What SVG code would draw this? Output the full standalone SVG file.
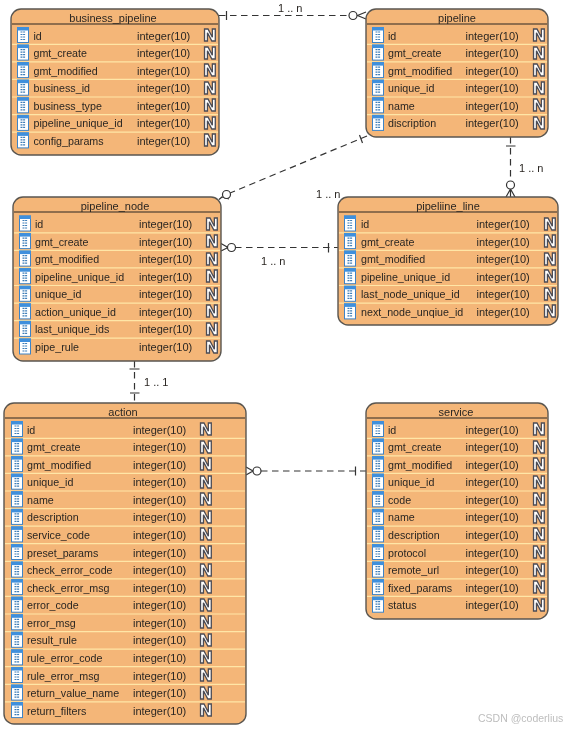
<svg xmlns="http://www.w3.org/2000/svg" width="566" height="730" viewBox="0 0 566 730">
<style>
text{font-family:"Liberation Sans",Arial,sans-serif;font-size:10.7px;fill:#2a2622}
g g text:nth-of-type(2){font-size:11px}
.box{fill:#f4b678;stroke:#5a5650;stroke-width:1.4}
.hd{stroke:#2a2622;stroke-width:1.1}
.sep{stroke:#ffe6a6;stroke-width:1.2}
.ti{text-anchor:middle;font-size:11px}
g g text.nn{font-family:"DejaVu Sans",sans-serif;font-size:16.500px;font-weight:bold;fill:#fff;stroke:#4c4c55;stroke-width:1.3;text-anchor:middle}
.c{fill:none;stroke:#333;stroke-width:1.2}
.d{stroke-dasharray:6.500 4.500}
.o{fill:#fff;stroke:#333;stroke-width:1.2}
.lb{font-size:11px}
.wm{fill:#bdbdbd;font-size:10.500px}
#connectors,#business_pipeline,#pipeline,#pipeline_node,#pipeliine_line,#action,#service,.wm{filter:url(#soft)}
</style>
<defs>
<filter id="soft" x="-5%" y="-5%" width="110%" height="110%" color-interpolation-filters="sRGB"><feGaussianBlur stdDeviation="0.32"/></filter>
<g id="k">
<rect x="0.5" y="-8" width="11" height="15" fill="#fff" stroke="#3d83c6" stroke-width="1"/>
<rect x="0" y="-8.500" width="12" height="3.500" fill="#3f8fdc"/>
<path d="M3.500 -3.500H8.500M3.500 -1H8.500M3.500 1.500H8.500M3.500 4H8.500" stroke="#3d7db8" stroke-width="1.200" stroke-dasharray="2 0.600"/>
</g>
</defs>
<g id="connectors">
<g>
<path class="c d" d="M219 15.500H349"/><path class="c" d="M226.500 11V20M366 12L357.500 15.500L366 19"/><circle class="o" cx="353" cy="15.500" r="4"/>
</g>
<g>
<path class="c d" d="M367 136L230 193"/><path class="c" d="M359.500 135L362.500 143M229 199L222 197L219 199.500"/><circle class="o" cx="226.500" cy="194.500" r="4"/>
</g>
<g>
<path class="c d" d="M510.500 137V181"/><path class="c" d="M506 146H515.500M506 197L510.500 189L515 197M510.500 189V197"/><circle class="o" cx="510.500" cy="185" r="4"/>
</g>
<g>
<path class="c d" d="M235 247.500H338"/><path class="c" d="M328.500 243V252.500M221 243.500L228 247.500L221 251"/><circle class="o" cx="231.500" cy="247.500" r="4"/>
</g>
<g>
<path class="c d" d="M134.500 361V403"/><path class="c" d="M129.500 369H139.500M130 393H139.500"/>
</g>
<g>
<path class="c d" d="M261 471H366"/><path class="c" d="M355.500 466.500V475.500M246 467L253 471L246 475"/><circle class="o" cx="257" cy="471" r="4"/>
</g>
<text class="lb" x="278" y="12">1 .. n</text>
<text class="lb" x="519" y="172">1 .. n</text>
<text class="lb" x="316" y="198">1 .. n</text>
<text class="lb" x="261" y="265">1 .. n</text>
<text class="lb" x="144" y="386">1 .. 1</text>
</g>
<g id="business_pipeline" transform="translate(11,9)">
<rect class="box" width="208" height="146" rx="10"/><line class="hd" x1="1" x2="207" y1="15" y2="15"/><text class="ti" x="102" y="13">business_pipeline</text>
<g transform="translate(0,26.500)"><use href="#k" x="6"/><text x="22.500" y="4">id</text><text x="126" y="4">integer(10)</text><text class="nn" x="199" y="5.500">N</text><line class="sep" x1="1" x2="207" y1="8.800" y2="8.800"/></g>
<g transform="translate(0,44.100)"><use href="#k" x="6"/><text x="22.500" y="4">gmt_create</text><text x="126" y="4">integer(10)</text><text class="nn" x="199" y="5.500">N</text><line class="sep" x1="1" x2="207" y1="8.800" y2="8.800"/></g>
<g transform="translate(0,61.600)"><use href="#k" x="6"/><text x="22.500" y="4">gmt_modified</text><text x="126" y="4">integer(10)</text><text class="nn" x="199" y="5.500">N</text><line class="sep" x1="1" x2="207" y1="8.800" y2="8.800"/></g>
<g transform="translate(0,79.200)"><use href="#k" x="6"/><text x="22.500" y="4">business_id</text><text x="126" y="4">integer(10)</text><text class="nn" x="199" y="5.500">N</text><line class="sep" x1="1" x2="207" y1="8.800" y2="8.800"/></g>
<g transform="translate(0,96.800)"><use href="#k" x="6"/><text x="22.500" y="4">business_type</text><text x="126" y="4">integer(10)</text><text class="nn" x="199" y="5.500">N</text><line class="sep" x1="1" x2="207" y1="8.800" y2="8.800"/></g>
<g transform="translate(0,114.400)"><use href="#k" x="6"/><text x="22.500" y="4">pipeline_unique_id</text><text x="126" y="4">integer(10)</text><text class="nn" x="199" y="5.500">N</text><line class="sep" x1="1" x2="207" y1="8.800" y2="8.800"/></g>
<g transform="translate(0,131.900)"><use href="#k" x="6"/><text x="22.500" y="4">config_params</text><text x="126" y="4">integer(10)</text><text class="nn" x="199" y="5.500">N</text></g>
</g>
<g id="pipeline" transform="translate(366,9)">
<rect class="box" width="182" height="128" rx="10"/><line class="hd" x1="1" x2="181" y1="15" y2="15"/><text class="ti" x="91" y="13">pipeline</text>
<g transform="translate(0,26.500)"><use href="#k" x="6"/><text x="22" y="4">id</text><text x="99.500" y="4">integer(10)</text><text class="nn" x="173" y="5.500">N</text><line class="sep" x1="1" x2="181" y1="8.800" y2="8.800"/></g>
<g transform="translate(0,44.100)"><use href="#k" x="6"/><text x="22" y="4">gmt_create</text><text x="99.500" y="4">integer(10)</text><text class="nn" x="173" y="5.500">N</text><line class="sep" x1="1" x2="181" y1="8.800" y2="8.800"/></g>
<g transform="translate(0,61.600)"><use href="#k" x="6"/><text x="22" y="4">gmt_modified</text><text x="99.500" y="4">integer(10)</text><text class="nn" x="173" y="5.500">N</text><line class="sep" x1="1" x2="181" y1="8.800" y2="8.800"/></g>
<g transform="translate(0,79.200)"><use href="#k" x="6"/><text x="22" y="4">unique_id</text><text x="99.500" y="4">integer(10)</text><text class="nn" x="173" y="5.500">N</text><line class="sep" x1="1" x2="181" y1="8.800" y2="8.800"/></g>
<g transform="translate(0,96.800)"><use href="#k" x="6"/><text x="22" y="4">name</text><text x="99.500" y="4">integer(10)</text><text class="nn" x="173" y="5.500">N</text><line class="sep" x1="1" x2="181" y1="8.800" y2="8.800"/></g>
<g transform="translate(0,114.400)"><use href="#k" x="6"/><text x="22" y="4">discription</text><text x="99.500" y="4">integer(10)</text><text class="nn" x="173" y="5.500">N</text></g>
</g>
<g id="pipeline_node" transform="translate(13,197)">
<rect class="box" width="208" height="164" rx="10"/><line class="hd" x1="1" x2="207" y1="15" y2="15"/><text class="ti" x="102" y="13">pipeline_node</text>
<g transform="translate(0,27)"><use href="#k" x="6"/><text x="22" y="4">id</text><text x="126" y="4">integer(10)</text><text class="nn" x="199" y="5.500">N</text><line class="sep" x1="1" x2="207" y1="8.800" y2="8.800"/></g>
<g transform="translate(0,44.600)"><use href="#k" x="6"/><text x="22" y="4">gmt_create</text><text x="126" y="4">integer(10)</text><text class="nn" x="199" y="5.500">N</text><line class="sep" x1="1" x2="207" y1="8.800" y2="8.800"/></g>
<g transform="translate(0,62.100)"><use href="#k" x="6"/><text x="22" y="4">gmt_modified</text><text x="126" y="4">integer(10)</text><text class="nn" x="199" y="5.500">N</text><line class="sep" x1="1" x2="207" y1="8.800" y2="8.800"/></g>
<g transform="translate(0,79.700)"><use href="#k" x="6"/><text x="22" y="4">pipeline_unique_id</text><text x="126" y="4">integer(10)</text><text class="nn" x="199" y="5.500">N</text><line class="sep" x1="1" x2="207" y1="8.800" y2="8.800"/></g>
<g transform="translate(0,97.300)"><use href="#k" x="6"/><text x="22" y="4">unique_id</text><text x="126" y="4">integer(10)</text><text class="nn" x="199" y="5.500">N</text><line class="sep" x1="1" x2="207" y1="8.800" y2="8.800"/></g>
<g transform="translate(0,114.900)"><use href="#k" x="6"/><text x="22" y="4">action_unique_id</text><text x="126" y="4">integer(10)</text><text class="nn" x="199" y="5.500">N</text><line class="sep" x1="1" x2="207" y1="8.800" y2="8.800"/></g>
<g transform="translate(0,132.400)"><use href="#k" x="6"/><text x="22" y="4">last_unique_ids</text><text x="126" y="4">integer(10)</text><text class="nn" x="199" y="5.500">N</text><line class="sep" x1="1" x2="207" y1="8.800" y2="8.800"/></g>
<g transform="translate(0,150)"><use href="#k" x="6"/><text x="22" y="4">pipe_rule</text><text x="126" y="4">integer(10)</text><text class="nn" x="199" y="5.500">N</text></g>
</g>
<g id="pipeliine_line" transform="translate(338,197)">
<rect class="box" width="220" height="128" rx="10"/><line class="hd" x1="1" x2="219" y1="15" y2="15"/><text class="ti" x="110" y="13">pipeliine_line</text>
<g transform="translate(0,27)"><use href="#k" x="6"/><text x="23" y="4">id</text><text x="138.500" y="4">integer(10)</text><text class="nn" x="212" y="5.500">N</text><line class="sep" x1="1" x2="219" y1="8.800" y2="8.800"/></g>
<g transform="translate(0,44.600)"><use href="#k" x="6"/><text x="23" y="4">gmt_create</text><text x="138.500" y="4">integer(10)</text><text class="nn" x="212" y="5.500">N</text><line class="sep" x1="1" x2="219" y1="8.800" y2="8.800"/></g>
<g transform="translate(0,62.100)"><use href="#k" x="6"/><text x="23" y="4">gmt_modified</text><text x="138.500" y="4">integer(10)</text><text class="nn" x="212" y="5.500">N</text><line class="sep" x1="1" x2="219" y1="8.800" y2="8.800"/></g>
<g transform="translate(0,79.700)"><use href="#k" x="6"/><text x="23" y="4">pipeline_unique_id</text><text x="138.500" y="4">integer(10)</text><text class="nn" x="212" y="5.500">N</text><line class="sep" x1="1" x2="219" y1="8.800" y2="8.800"/></g>
<g transform="translate(0,97.300)"><use href="#k" x="6"/><text x="23" y="4">last_node_unique_id</text><text x="138.500" y="4">integer(10)</text><text class="nn" x="212" y="5.500">N</text><line class="sep" x1="1" x2="219" y1="8.800" y2="8.800"/></g>
<g transform="translate(0,114.900)"><use href="#k" x="6"/><text x="23" y="4">next_node_unqiue_id</text><text x="138.500" y="4">integer(10)</text><text class="nn" x="212" y="5.500">N</text></g>
</g>
<g id="action" transform="translate(4,403)">
<rect class="box" width="242" height="321" rx="10"/><line class="hd" x1="1" x2="241" y1="15" y2="15"/><text class="ti" x="119" y="13">action</text>
<g transform="translate(0,26.500)"><use href="#k" x="7"/><text x="23" y="4">id</text><text x="129" y="4">integer(10)</text><text class="nn" x="202" y="5.500">N</text><line class="sep" x1="1" x2="241" y1="8.800" y2="8.800"/></g>
<g transform="translate(0,44.100)"><use href="#k" x="7"/><text x="23" y="4">gmt_create</text><text x="129" y="4">integer(10)</text><text class="nn" x="202" y="5.500">N</text><line class="sep" x1="1" x2="241" y1="8.800" y2="8.800"/></g>
<g transform="translate(0,61.600)"><use href="#k" x="7"/><text x="23" y="4">gmt_modified</text><text x="129" y="4">integer(10)</text><text class="nn" x="202" y="5.500">N</text><line class="sep" x1="1" x2="241" y1="8.800" y2="8.800"/></g>
<g transform="translate(0,79.200)"><use href="#k" x="7"/><text x="23" y="4">unique_id</text><text x="129" y="4">integer(10)</text><text class="nn" x="202" y="5.500">N</text><line class="sep" x1="1" x2="241" y1="8.800" y2="8.800"/></g>
<g transform="translate(0,96.800)"><use href="#k" x="7"/><text x="23" y="4">name</text><text x="129" y="4">integer(10)</text><text class="nn" x="202" y="5.500">N</text><line class="sep" x1="1" x2="241" y1="8.800" y2="8.800"/></g>
<g transform="translate(0,114.400)"><use href="#k" x="7"/><text x="23" y="4">description</text><text x="129" y="4">integer(10)</text><text class="nn" x="202" y="5.500">N</text><line class="sep" x1="1" x2="241" y1="8.800" y2="8.800"/></g>
<g transform="translate(0,131.900)"><use href="#k" x="7"/><text x="23" y="4">service_code</text><text x="129" y="4">integer(10)</text><text class="nn" x="202" y="5.500">N</text><line class="sep" x1="1" x2="241" y1="8.800" y2="8.800"/></g>
<g transform="translate(0,149.500)"><use href="#k" x="7"/><text x="23" y="4">preset_params</text><text x="129" y="4">integer(10)</text><text class="nn" x="202" y="5.500">N</text><line class="sep" x1="1" x2="241" y1="8.800" y2="8.800"/></g>
<g transform="translate(0,167.100)"><use href="#k" x="7"/><text x="23" y="4">check_error_code</text><text x="129" y="4">integer(10)</text><text class="nn" x="202" y="5.500">N</text><line class="sep" x1="1" x2="241" y1="8.800" y2="8.800"/></g>
<g transform="translate(0,184.600)"><use href="#k" x="7"/><text x="23" y="4">check_error_msg</text><text x="129" y="4">integer(10)</text><text class="nn" x="202" y="5.500">N</text><line class="sep" x1="1" x2="241" y1="8.800" y2="8.800"/></g>
<g transform="translate(0,202.200)"><use href="#k" x="7"/><text x="23" y="4">error_code</text><text x="129" y="4">integer(10)</text><text class="nn" x="202" y="5.500">N</text><line class="sep" x1="1" x2="241" y1="8.800" y2="8.800"/></g>
<g transform="translate(0,219.800)"><use href="#k" x="7"/><text x="23" y="4">error_msg</text><text x="129" y="4">integer(10)</text><text class="nn" x="202" y="5.500">N</text><line class="sep" x1="1" x2="241" y1="8.800" y2="8.800"/></g>
<g transform="translate(0,237.300)"><use href="#k" x="7"/><text x="23" y="4">result_rule</text><text x="129" y="4">integer(10)</text><text class="nn" x="202" y="5.500">N</text><line class="sep" x1="1" x2="241" y1="8.800" y2="8.800"/></g>
<g transform="translate(0,254.900)"><use href="#k" x="7"/><text x="23" y="4">rule_error_code</text><text x="129" y="4">integer(10)</text><text class="nn" x="202" y="5.500">N</text><line class="sep" x1="1" x2="241" y1="8.800" y2="8.800"/></g>
<g transform="translate(0,272.500)"><use href="#k" x="7"/><text x="23" y="4">rule_error_msg</text><text x="129" y="4">integer(10)</text><text class="nn" x="202" y="5.500">N</text><line class="sep" x1="1" x2="241" y1="8.800" y2="8.800"/></g>
<g transform="translate(0,290.100)"><use href="#k" x="7"/><text x="23" y="4">return_value_name</text><text x="129" y="4">integer(10)</text><text class="nn" x="202" y="5.500">N</text><line class="sep" x1="1" x2="241" y1="8.800" y2="8.800"/></g>
<g transform="translate(0,307.600)"><use href="#k" x="7"/><text x="23" y="4">return_filters</text><text x="129" y="4">integer(10)</text><text class="nn" x="202" y="5.500">N</text></g>
</g>
<g id="service" transform="translate(366,403)">
<rect class="box" width="182" height="216" rx="10"/><line class="hd" x1="1" x2="181" y1="15" y2="15"/><text class="ti" x="90" y="13">service</text>
<g transform="translate(0,26.500)"><use href="#k" x="6"/><text x="22" y="4">id</text><text x="99.500" y="4">integer(10)</text><text class="nn" x="173" y="5.500">N</text><line class="sep" x1="1" x2="181" y1="8.800" y2="8.800"/></g>
<g transform="translate(0,44.100)"><use href="#k" x="6"/><text x="22" y="4">gmt_create</text><text x="99.500" y="4">integer(10)</text><text class="nn" x="173" y="5.500">N</text><line class="sep" x1="1" x2="181" y1="8.800" y2="8.800"/></g>
<g transform="translate(0,61.600)"><use href="#k" x="6"/><text x="22" y="4">gmt_modified</text><text x="99.500" y="4">integer(10)</text><text class="nn" x="173" y="5.500">N</text><line class="sep" x1="1" x2="181" y1="8.800" y2="8.800"/></g>
<g transform="translate(0,79.200)"><use href="#k" x="6"/><text x="22" y="4">unique_id</text><text x="99.500" y="4">integer(10)</text><text class="nn" x="173" y="5.500">N</text><line class="sep" x1="1" x2="181" y1="8.800" y2="8.800"/></g>
<g transform="translate(0,96.800)"><use href="#k" x="6"/><text x="22" y="4">code</text><text x="99.500" y="4">integer(10)</text><text class="nn" x="173" y="5.500">N</text><line class="sep" x1="1" x2="181" y1="8.800" y2="8.800"/></g>
<g transform="translate(0,114.400)"><use href="#k" x="6"/><text x="22" y="4">name</text><text x="99.500" y="4">integer(10)</text><text class="nn" x="173" y="5.500">N</text><line class="sep" x1="1" x2="181" y1="8.800" y2="8.800"/></g>
<g transform="translate(0,131.900)"><use href="#k" x="6"/><text x="22" y="4">description</text><text x="99.500" y="4">integer(10)</text><text class="nn" x="173" y="5.500">N</text><line class="sep" x1="1" x2="181" y1="8.800" y2="8.800"/></g>
<g transform="translate(0,149.500)"><use href="#k" x="6"/><text x="22" y="4">protocol</text><text x="99.500" y="4">integer(10)</text><text class="nn" x="173" y="5.500">N</text><line class="sep" x1="1" x2="181" y1="8.800" y2="8.800"/></g>
<g transform="translate(0,167.100)"><use href="#k" x="6"/><text x="22" y="4">remote_url</text><text x="99.500" y="4">integer(10)</text><text class="nn" x="173" y="5.500">N</text><line class="sep" x1="1" x2="181" y1="8.800" y2="8.800"/></g>
<g transform="translate(0,184.600)"><use href="#k" x="6"/><text x="22" y="4">fixed_params</text><text x="99.500" y="4">integer(10)</text><text class="nn" x="173" y="5.500">N</text><line class="sep" x1="1" x2="181" y1="8.800" y2="8.800"/></g>
<g transform="translate(0,202.200)"><use href="#k" x="6"/><text x="22" y="4">status</text><text x="99.500" y="4">integer(10)</text><text class="nn" x="173" y="5.500">N</text></g>
</g>
<text class="wm" x="478" y="722">CSDN @coderlius</text>
</svg>
